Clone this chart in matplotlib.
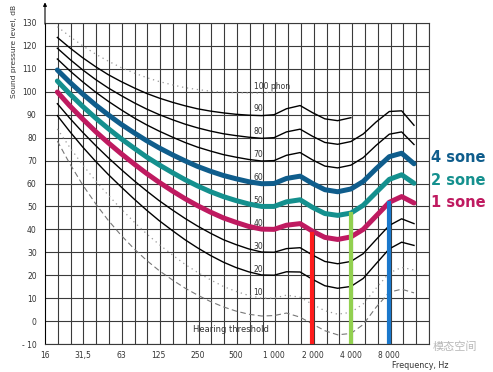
import matplotlib
matplotlib.use("Agg")
from matplotlib import pyplot as plt
from matplotlib.ticker import NullFormatter

freqs = [20, 25, 31.5, 40, 50, 63, 80, 100, 125, 160, 200, 250, 315, 400, 500,
         630, 800, 1000, 1250, 1600, 2000, 2500, 3150, 4000, 5000, 6300, 8000,
         10000, 12500]

threshold = [78.5, 68.7, 59.5, 51.1, 44.0, 37.5, 31.5, 26.5, 22.1, 17.9, 14.4, 11.4, 8.6,
             6.2, 4.4, 3.0, 2.2, 2.4, 3.5, 1.7, -1.3, -4.2, -6.0, -5.4, -1.5, 6.0, 12.6,
             13.9, 12.3]
phon10 = [83.8, 75.8, 68.2, 61.1, 55.0, 49.0, 43.2, 38.1, 33.5, 28.8, 24.8, 21.3, 18.1,
          15.1, 13.0, 11.2, 10.0, 10.0, 11.3, 10.4, 7.3, 4.5, 3.0, 3.8, 7.5, 14.3, 21.0,
          23.4, 22.3]
phon20 = [89.6, 82.7, 76.0, 69.6, 64.0, 58.6, 53.2, 48.4, 43.9, 39.4, 35.5, 32.0, 28.7,
          25.7, 23.4, 21.5, 20.1, 20.0, 21.5, 21.4, 18.2, 15.4, 14.3, 15.1, 18.6, 25.0,
          31.5, 34.4, 33.0]
phon30 = [94.8, 88.5, 82.4, 76.5, 71.3, 66.2, 61.2, 56.8, 52.6, 48.4, 44.8, 41.5, 38.4,
          35.5, 33.4, 31.5, 30.1, 30.0, 31.6, 32.0, 28.8, 26.0, 25.0, 26.0, 29.4, 35.5,
          41.7, 44.6, 42.5]
phon40 = [99.9, 93.9, 88.2, 82.6, 77.8, 73.1, 68.5, 64.4, 60.6, 56.7, 53.4, 50.4, 47.6,
          45.0, 43.1, 41.3, 40.1, 40.0, 41.8, 42.5, 39.2, 36.5, 35.6, 36.7, 40.0, 45.8,
          51.8, 54.3, 51.5]
phon50 = [104.7, 99.1, 93.7, 88.5, 84.0, 79.6, 75.4, 71.6, 68.2, 64.7, 61.7, 59.0, 56.5,
          54.3, 52.6, 51.1, 50.0, 50.0, 52.0, 52.9, 49.6, 46.9, 46.1, 47.1, 50.5, 56.1,
          61.8, 63.8, 60.1]
phon60 = [109.5, 104.2, 99.1, 94.2, 90.0, 85.9, 82.1, 78.7, 75.6, 72.5, 69.9, 67.5, 65.4,
          63.5, 62.1, 60.8, 59.9, 60.0, 62.2, 63.2, 60.0, 57.3, 56.4, 57.6, 60.9, 66.4,
          71.7, 73.2, 68.6]
phon70 = [114.3, 109.2, 104.4, 99.8, 95.9, 92.2, 88.6, 85.6, 82.9, 80.2, 77.9, 75.9,
          74.2, 72.6, 71.5, 70.5, 69.8, 70.0, 72.3, 73.5, 70.3, 67.6, 66.8, 68.0, 71.3,
          76.6, 81.5, 82.5, 77.0]
phon80 = [119.0, 114.2, 109.6, 105.3, 101.7, 98.4, 95.2, 92.5, 90.1, 87.8, 85.9, 84.3,
          82.9, 81.7, 80.9, 80.2, 79.7, 80.0, 82.5, 83.7, 80.6, 77.9, 77.1, 78.3, 81.6,
          86.8, 91.4, 91.7, 85.4]
# 90 phon drawn up to 4 kHz, 100 phon up to 1 kHz
phon90 = [123.7, 119.2, 114.9, 110.9, 107.5, 104.5, 101.7, 99.3, 97.3, 95.4, 93.9,
          92.6, 91.6, 90.8, 90.2, 89.8, 89.6, 90.0, 92.6, 94.0, 90.9, 88.2, 87.4, 88.7]
phon100 = [128.4, 124.2, 120.1, 116.4, 113.4, 110.6, 108.2, 106.2, 104.5, 103.0, 101.8,
           101.0, 100.3, 99.8, 99.6, 99.5, 99.4, 100.0]

contour_labels = ["100 phon", "90", "80", "70", "60", "50", "40", "30", "20", "10"]
contour_levels = [100, 90, 80, 70, 60, 50, 40, 30, 20, 10]

sone_labels = ["4 sone", "2 sone", "1 sone"]
sone_levels = [71.5, 61.5, 51.5]

marker_freqs = [2000, 4000, 8000]
marker_tops = [38.0, 46.8, 51.5]

oct_ticks = [16, 31.5, 63, 125, 250, 500, 1000, 2000, 4000, 8000]
oct_labels = ["16", "31,5", "63", "125", "250", "500", "1 000", "2 000", "4 000", "8 000"]

BLUE = "#0f5d8c"
TEAL = "#14908e"
MAGENTA = "#bf1a60"
GRID = "#3a3a3a"
TXT = "#333333"

fig = plt.figure(figsize=(4.93, 3.72), dpi=100)
ax = fig.add_axes([45 / 493, 28 / 372, 384 / 493, 321 / 372])
ax.set_xscale("log", base=2)
ax.set_xlim(16, 16000)
ax.set_ylim(-10, 130)

# grid: third octaves and 10 dB
ax.set_xticks(oct_ticks)
ax.set_xticklabels(oct_labels)
ax.set_xticks([16 * 2 ** (k / 3) for k in range(31)], minor=True)
ax.xaxis.set_minor_formatter(NullFormatter())
ax.set_yticks(range(-10, 131, 10))
ax.set_yticklabels(["- 10" if v < 0 else str(v) for v in range(-10, 131, 10)])
ax.grid(True, which="minor", axis="x", color=GRID, lw=0.8)
ax.grid(True, axis="y", color=GRID, lw=0.8)
ax.tick_params(which="both", length=0, labelsize=5.5, labelcolor=TXT)
ax.tick_params(axis="x", pad=5)
ax.tick_params(axis="y", pad=6)
for s in ("top", "right", "bottom"):
    ax.spines[s].set_color(GRID)
    ax.spines[s].set_linewidth(0.8)
ax.spines["left"].set_color("black")
ax.annotate("", xy=(16, 139), xytext=(16, 129.5), annotation_clip=False,
            arrowprops=dict(arrowstyle="-|>", color="black", lw=0.8,
                            mutation_scale=5, shrinkA=0, shrinkB=0))

dots = (0, (1, 3))
ax.plot(freqs[:len(phon100)], phon100, color="#999999", lw=0.9, ls=dots)
ax.plot(freqs[:len(phon90)], phon90, color="black", lw=1)
ax.plot(freqs, phon80, color="black", lw=1)
ax.plot(freqs, phon70, color="black", lw=1)
ax.plot(freqs, phon60, color=BLUE, lw=3.6, solid_capstyle="round", solid_joinstyle="round")
ax.plot(freqs, phon50, color=TEAL, lw=3.6, solid_capstyle="round", solid_joinstyle="round")
ax.plot(freqs, phon40, color=MAGENTA, lw=3.6, solid_capstyle="round", solid_joinstyle="round")
ax.plot(freqs, phon30, color="black", lw=1)
ax.plot(freqs, phon20, color="black", lw=1)
ax.plot(freqs, phon10, color="#999999", lw=0.9, ls=dots)
ax.plot(freqs, threshold, color="#777777", lw=0.8, ls=(0, (5, 3)))

for f, top, c in zip(marker_freqs, marker_tops, ["#ff1c1c", "#92d050", "#1a78cc"]):
    ax.plot([f, f], [-10, top], color=c, lw=3, zorder=4)

for lab, lev in zip(contour_labels, contour_levels):
    ax.text(690, lev + 2.5, lab, fontsize=5.5, color=TXT, va="center", ha="left")
ax.text(231, -3.5, "Hearing threshold", fontsize=6, color=TXT, va="center", ha="left")

for lab, lev, c in zip(sone_labels, sone_levels, [BLUE, TEAL, MAGENTA]):
    ax.text(17000, lev, lab, fontsize=10.5, fontweight="bold", color=c,
            va="center", ha="left", clip_on=False)

fig.text(14 / 493, 1 - 51 / 372, "Sound pressure level, dB", rotation=90,
         fontsize=5.4, color=TXT, ha="center", va="center")
fig.text(420 / 493, 1 - 365 / 372, "Frequency, Hz", fontsize=5.8, color=TXT,
         ha="center", va="center")
fig.text(455 / 493, 1 - 347 / 372, "模态空间", fontsize=8, color="#b8b8b8",
         ha="center", va="center", family=["Noto Sans CJK SC", "DejaVu Sans"])

fig.savefig("out.png")
